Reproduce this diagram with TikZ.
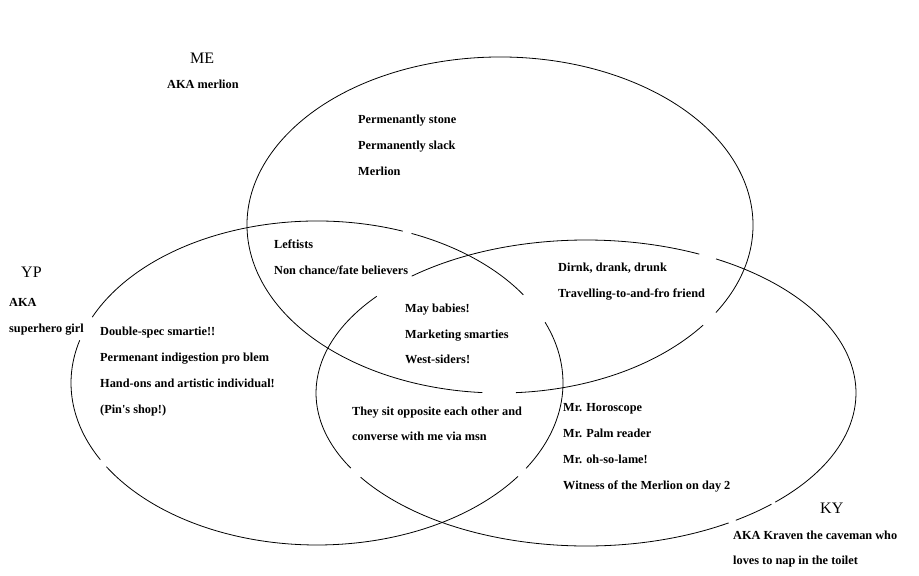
\documentclass[tikz,border=0pt]{standalone}
\usepackage{fontspec}
\setmainfont{Liberation Serif}
\newcommand\venarc[6]{\draw[venn] ({#1+#3*cos(#5)},{#2+#4*sin(#5)}) arc[start angle=#5,end angle=#6,x radius=#3pt,y radius=#4pt];}
\begin{document}
\begin{tikzpicture}[x=1pt,y=1pt,
  venn/.style={line width=0.8pt,black},
  lbl/.style={anchor=base west,inner sep=0pt,font=\fontsize{12.3}{14}\selectfont\bfseries},
  head/.style={anchor=base west,inner sep=0pt,font=\fontsize{16}{18}\selectfont}]
\fill[white] (0,0) rectangle (919,576);
\useasboundingbox (0,0) rectangle (919,576);
% ME ellipse: centre (500,351), rx 253, ry 168
\venarc{500}{351}{253}{168}{273.6}{323.4}
\venarc{500}{351}{253}{168}{328.6}{626}
% YP ellipse: centre (317,193), rx 246, ry 162
\venarc{317}{193}{246}{162}{33}{67.4}
\venarc{317}{193}{246}{162}{69.6}{156}
\venarc{317}{193}{246}{162}{164.7}{208.3}
\venarc{317}{193}{246}{162}{211.1}{324.8}
\venarc{317}{193}{246}{162}{328.2}{382}
% KY ellipse: centre (586,183), rx 270, ry 153
\venarc{586}{183}{270}{153}{65.2}{130.2}
\venarc{586}{183}{270}{153}{140.8}{209.4}
\venarc{586}{183}{270}{153}{213.4}{301.9}
\venarc{586}{183}{270}{153}{303.7}{313.4}
\venarc{586}{183}{270}{153}{314.5}{421.2}
% ME
\node[head] (me) at (190,512) {ME};
\node[lbl] (meaka) at (167,487) {AKA merlion};
\node[lbl] (me1) at (358,452) {Permenantly stone};
\node[lbl] (me2) at (358,426) {Permanently slack};
\node[lbl] (me3) at (358,400) {Merlion};
% ME & YP
\node[lbl] (my1) at (274,327) {Leftists};
\node[lbl] (my2) at (274,301) {Non chance/fate believers};
% YP
\node[head] (yp) at (21,298) {YP};
\node[lbl] (ypaka) at (9,269) {AKA};
\node[lbl] (ypaka2) at (9,243) {superhero girl};
\node[lbl] (yp1) at (100,240) {Double-spec smartie!!};
\node[lbl] (yp2) at (100,214) {Permenant indigestion pro blem};
\node[lbl] (yp3) at (100,188) {Hand-ons and artistic individual!};
\node[lbl] (yp4) at (100,162) {(Pin\textquotesingle s shop!)};
% all three
\node[lbl] (all1) at (405,263) {May babies!};
\node[lbl] (all2) at (405,237) {Marketing smarties};
\node[lbl] (all3) at (405,212) {West-siders!};
% ME & KY
\node[lbl] (mk1) at (558,304) {Dirnk, drank, drunk};
\node[lbl] (mk2) at (558,278) {Travelling-to-and-fro friend};
% YP & KY
\node[lbl] (yk1) at (352,160) {They sit opposite each other and};
\node[lbl] (yk2) at (352,135) {converse with me via msn};
% KY
\node[lbl] (ky1) at (563,164) {Mr. Horoscope};
\node[lbl] (ky2) at (563,138) {Mr. Palm reader};
\node[lbl] (ky3) at (563,112) {Mr. oh-so-lame!};
\node[lbl] (ky4) at (563,86) {Witness of the Merlion on day 2};
\node[head] (ky) at (820,62) {KY};
\node[lbl] (kyaka) at (733,36) {AKA Kraven the caveman who};
\node[lbl] (kyaka2) at (733,11) {loves to nap in the toilet};
\end{tikzpicture}
\end{document}
